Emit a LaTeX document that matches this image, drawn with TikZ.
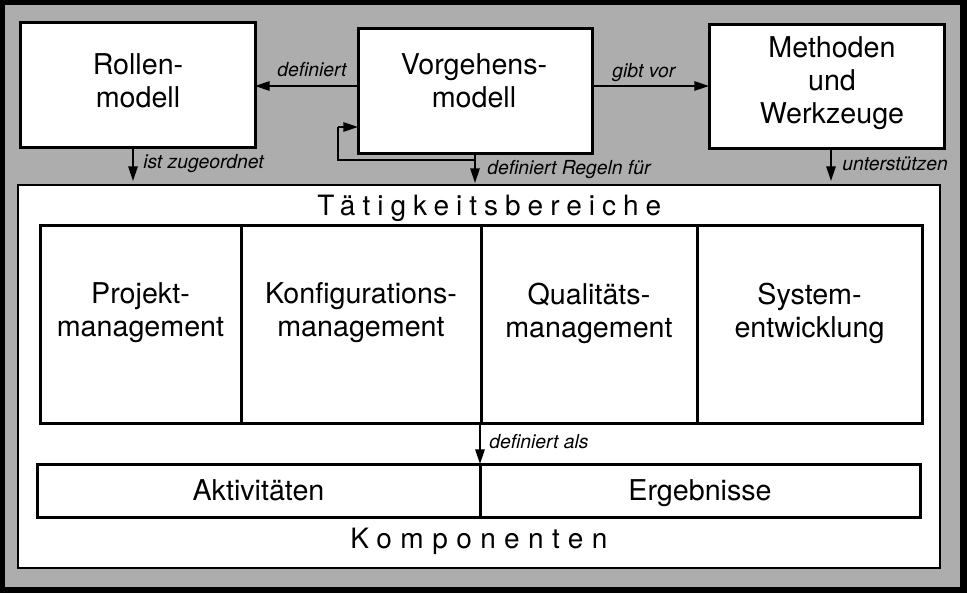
\documentclass[tikz,border=0pt]{standalone}
\usepackage{fontspec}
\setmainfont{TeX Gyre Heros}
\usetikzlibrary{arrows.meta,fit,calc}
\tikzset{
  box/.style={draw, line width=2.25pt, fill=white, inner sep=0pt, outer sep=0pt},
  thin box/.style={draw, line width=1pt, fill=white, inner sep=0pt, outer sep=0pt},
  main/.style={font=\fontsize{21.5}{24.75}\selectfont, align=center, inner sep=0pt},
  lbl/.style={font=\fontsize{14.5}{17}\selectfont\itshape, inner sep=0pt, anchor=base west},
  spaced/.style={font=\fontsize{21}{25}\selectfont, inner sep=0pt, anchor=base west},
  arr/.style={line width=1.5pt, -{Triangle[length=11pt,width=7pt]}},
}
\definecolor{bggray}{gray}{0.68}
\begin{document}
\begin{tikzpicture}[x=0.75pt,y=-0.75pt]
\useasboundingbox (0,0) rectangle (967,593);
% outer frame
\fill[black] (0,0) rectangle (967,593);
\fill[bggray] (5,5) rectangle (960,587);
% lower panel
\node[thin box, fit={(18,185) (940,568)}] (panel) {};
% top boxes
\node[box, fit={(20,22) (255,147)}] (rm) {};
\node[box, fit={(358,28) (592,153)}] (vm) {};
\node[box, fit={(709,24) (944,148)}] (mw) {};
\node[main] (rmt) at (138,80.5) {Rollen-\\modell};
\node[main] (vmt) at (474,80.5) {Vorgehens-\\modell};
\node[main] (mwt) at (832,83) {Methoden\\und\\Werkzeuge};
% Taetigkeitsbereiche
\node[spaced] (tb) at (317,215) {\addfontfeature{LetterSpace=25}Tätigkeitsbereiche};
\node[box, fit={(40,225) (241,423)}] (t1) {};
\node[box, fit={(241,225) (481,423)}] (t2) {};
\node[box, fit={(481,225) (697,423)}] (t3) {};
\node[box, fit={(697,225) (922,423)}] (t4) {};
\node[main] (t1t) at (t1.center |- 0,313) {Projekt-\\management};
\node[main] (t2t) at (t2.center |- 0,313) {Konfigurations-\\management};
\node[main] (t3t) at (t3.center |- 0,313) {Qualitäts-\\management};
\node[main] (t4t) at (t4.center |- 0,313) {System-\\entwicklung};
% Komponenten
\node[box, fit={(37,464) (480,517)}] (a1) {};
\node[box, fit={(480,464) (920,517)}] (a2) {};
\node[main, anchor=base] (a1t) at (a1.center |- 0,500) {Aktivitäten};
\node[main, anchor=base] (a2t) at (a2.center |- 0,500) {Ergebnisse};
\node[spaced] (ko) at (350,548) {\addfontfeature{LetterSpace=30}Komponenten};
% connectors
\coordinate (ya) at (0,86);
\draw[arr] (vm.west |- ya) -- (rm.east |- ya);
\draw[arr] (vm.east |- ya) -- (mw.west |- ya);
\coordinate (xr) at (133,0);
\coordinate (xv) at (475,0);
\coordinate (xm) at (831,0);
\draw[arr, shorten >=3pt] (rm.south -| xr) -- (panel.north -| xr);
\draw[arr, shorten >=1.5pt] (vm.south -| xv) -- (panel.north -| xv);
\draw[arr, shorten >=3pt] (mw.south -| xm) -- (panel.north -| xm);
\coordinate (lp) at (475,160);
\coordinate (lc) at (338,127);
\draw[line width=1.5pt] (lp) -| (lc);
\draw[arr] (lc) -- (vm.west |- lc);
\draw[arr] (a2.north west |- t3.south) -- (a2.north west);
% labels
\node[lbl] (l1) at (277,76) {definiert};
\node[lbl] (l2) at (612,77) {gibt vor};
\node[lbl] (l3) at (143,168) {ist zugeordnet};
\node[lbl] (l4) at (487,174) {definiert Regeln für};
\node[lbl] (l5) at (842,170) {unterstützen};
\node[lbl] (l6) at (489,448) {definiert als};
\end{tikzpicture}
\end{document}
